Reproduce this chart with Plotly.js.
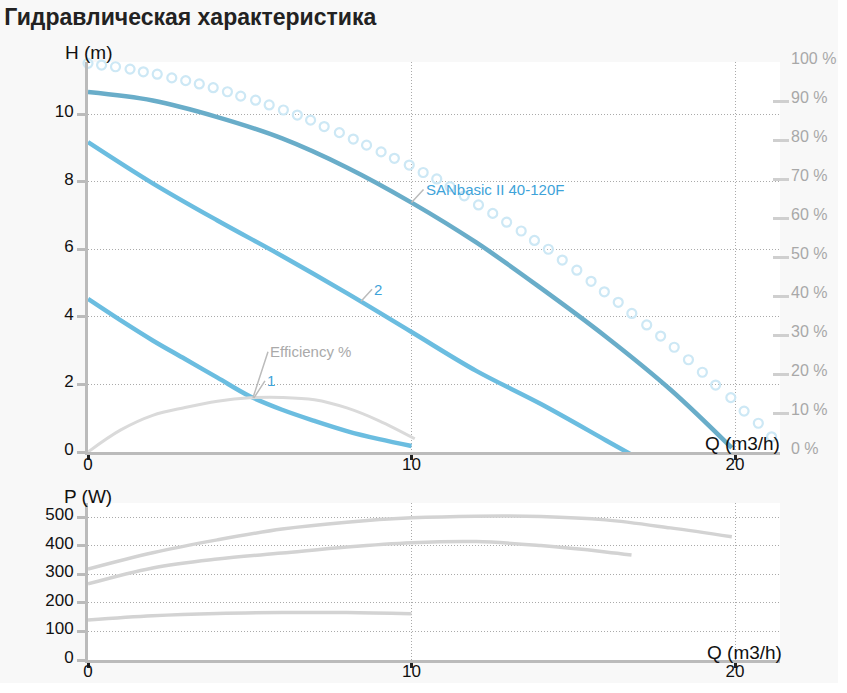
<!DOCTYPE html>
<html>
<head>
<meta charset="utf-8">
<script src="https://cdn.plot.ly/plotly-3.0.1.min.js"></script>
<style>
  html, body { margin: 0; padding: 0; background: #ffffff; }
  #chart { width: 838px; height: 683px; }
</style>
</head>
<body>
<div id="chart"></div>
<script>
// Pump curve H(Q), max speed
const qMax = [0, 2, 4, 6, 8, 10, 12, 14, 16, 18, 19.9];
const hMax = [10.65, 10.4, 9.91, 9.28, 8.42, 7.38, 6.2, 4.85, 3.42, 1.85, 0.12];

// Speed 2
const q2 = [0, 2, 4, 6, 8, 10, 12, 14, 16, 16.8];
const h2 = [9.17, 7.95, 6.85, 5.8, 4.7, 3.55, 2.4, 1.42, 0.35, -0.08];

// Speed 1
const q1 = [0, 1, 2, 3, 4, 5, 6, 7, 8, 9, 10];
const h1 = [4.53, 3.9, 3.3, 2.75, 2.2, 1.65, 1.25, 0.92, 0.62, 0.38, 0.18];

// Efficiency (%), right axis
const qEff = [0, 1, 2, 3, 4, 5, 6, 7, 8, 9, 10.1];
const eff = [0, 5.6, 9.4, 11.4, 13.0, 13.9, 14.0, 13.4, 11.3, 8.0, 3.4];

// Light dotted limit curve
const qDots = [0, 0.42, 0.85, 1.30, 1.71, 2.14, 2.59, 3.02, 3.44, 3.87,
               4.31, 4.72, 5.18, 5.60, 6.04, 6.47, 6.88, 7.30, 7.77, 8.20,
               8.61, 9.06, 9.47, 9.93, 10.36, 10.78, 11.19, 11.63, 12.07, 12.51,
               12.94, 13.39, 13.80, 14.23, 14.66, 15.11, 15.55, 15.96, 16.39, 16.81,
               17.27, 17.70, 18.12, 18.56, 18.99, 19.40, 19.87, 20.28, 20.72, 21.13];
const hDots = [11.50, 11.45, 11.40, 11.33, 11.25, 11.18, 11.07, 10.99, 10.89, 10.78,
               10.66, 10.53, 10.41, 10.27, 10.12, 9.97, 9.82, 9.63, 9.45, 9.26,
               9.08, 8.88, 8.69, 8.49, 8.27, 8.08, 7.85, 7.58, 7.31, 7.06,
               6.80, 6.54, 6.26, 6.00, 5.68, 5.38, 5.05, 4.74, 4.43, 4.10,
               3.76, 3.43, 3.10, 2.73, 2.36, 1.98, 1.61, 1.21, 0.85, 0.45];

// Power P(Q)
const qPA = [0, 2, 4, 6, 8, 10, 12, 14, 16, 18, 19.9];
const pA = [318, 375, 420, 458, 482, 497, 503, 502, 490, 462, 431];
const qPB = [0, 2, 4, 6, 8, 10, 12, 14, 16, 16.8];
const pB = [266, 322, 353, 374, 395, 410, 414, 400, 378, 367];
const qPC = [0, 2, 4, 6, 8, 10];
const pC = [140, 155, 163, 166, 166, 162];

const xTicks = [0, 10, 20];
const hTicks = [0, 2, 4, 6, 8, 10];
const pctTicks = [0, 10, 20, 30, 40, 50, 60, 70, 80, 90, 100];
const pctLabels = pctTicks.map(v => v + ' %');
const pTicks = [0, 100, 200, 300, 400, 500];

const FONT = 'Liberation Sans, Arial, sans-serif';
const blueDark = '#69adc9';
const blue = '#6bbde0';
const grayLine = '#d3d3d3';
const axisGray = '#bbbbbb';
const gridGray = '#aaaaaa';
const gridDash = '1px,2px';

const traces = [
    { x: qDots, y: hDots, mode: 'markers', type: 'scatter', cliponaxis: false,
      marker: { symbol: 'circle-open', size: 9, color: '#cde8f5', line: { width: 2.2, color: '#cde8f5' } } },
    { x: qEff, y: eff, yaxis: 'y2', mode: 'lines', type: 'scatter',
      line: { color: '#dadada', width: 3, shape: 'spline' } },
    { x: q1, y: h1, mode: 'lines', type: 'scatter', line: { color: blue, width: 4.5, shape: 'spline' } },
    { x: q2, y: h2, mode: 'lines', type: 'scatter', cliponaxis: false,
      line: { color: blue, width: 4.5, shape: 'spline' } },
    { x: qMax, y: hMax, mode: 'lines', type: 'scatter', line: { color: blueDark, width: 4.5, shape: 'spline' } },
    { x: qPA, y: pA, xaxis: 'x2', yaxis: 'y3', mode: 'lines', type: 'scatter',
      line: { color: grayLine, width: 3.5, shape: 'spline' } },
    { x: qPB, y: pB, xaxis: 'x2', yaxis: 'y3', mode: 'lines', type: 'scatter',
      line: { color: grayLine, width: 3.5, shape: 'spline' } },
    { x: qPC, y: pC, xaxis: 'x2', yaxis: 'y3', mode: 'lines', type: 'scatter',
      line: { color: grayLine, width: 3.5, shape: 'spline' } }
];

const xDom = [88 / 838, 780 / 838];
const topDom = [1 - 452 / 683, 1 - 62 / 683];
const botDom = [1 - 660 / 683, 1 - 503 / 683];

function xAxis(anchor, standoff) {
    return {
        domain: xDom, anchor: anchor, range: [0, 21.39],
        tickvals: xTicks, ticks: 'outside', ticklen: 5, tickwidth: 3, tickcolor: '#222',
        ticklabelstandoff: standoff,
        showline: true, linecolor: axisGray, linewidth: 3,
        showgrid: true, gridcolor: gridGray, griddash: gridDash, gridwidth: 1,
        zeroline: false, tickfont: { size: 17, color: '#111' }, fixedrange: true
    };
}

function yAxis(anchor, dom, range, vals) {
    return {
        domain: dom, anchor: anchor, range: range, tickvals: vals,
        ticks: 'outside', ticklen: 8, tickwidth: 3, tickcolor: axisGray,
        ticklabelshift: -3, ticklabelstandoff: 0,
        showline: true, linecolor: axisGray, linewidth: 3,
        showgrid: true, gridcolor: gridGray, griddash: gridDash, gridwidth: 1,
        zeroline: false, tickfont: { size: 17, color: '#111' }, fixedrange: true
    };
}

// second copies of the left axes, only to draw the inner half of each tick
function innerTicks(over, range, vals) {
    return {
        overlaying: over, anchor: over === 'y' ? 'x' : 'x2', range: range, tickvals: vals,
        ticks: 'inside', ticklen: 9, tickwidth: 3, tickcolor: axisGray,
        showticklabels: false, showgrid: false, showline: false, zeroline: false
    };
}

const hRange = [0, 11.54];
const pRange = [0, 549];

const layout = {
    width: 838, height: 683,
    margin: { l: 0, r: 0, t: 0, b: 0 },
    paper_bgcolor: '#f8f8f8', plot_bgcolor: '#ffffff',
    showlegend: false,
    font: { family: FONT },
    title: {
        text: '<b>Гидравлическая характеристика</b>',
        x: 0.005, xanchor: 'left', y: 1 - 17 / 683, yanchor: 'middle',
        font: { size: 23, color: '#222', family: FONT }
    },
    xaxis: xAxis('y', -10),
    xaxis2: xAxis('y3', -11),
    yaxis: yAxis('x', topDom, hRange, hTicks),
    yaxis3: yAxis('x2', botDom, pRange, pTicks),
    yaxis4: innerTicks('y', hRange, hTicks),
    yaxis5: innerTicks('y3', pRange, pTicks),
    yaxis2: {
        overlaying: 'y', anchor: 'free', position: 789 / 838, side: 'right',
        range: [0, 100], tickvals: pctTicks, ticktext: pctLabels,
        ticks: 'inside', ticklen: 16, tickwidth: 3, tickcolor: '#cfcfcf',
        ticklabelshift: -4, ticklabelstandoff: 1,
        showline: false, showgrid: false, zeroline: false,
        tickfont: { size: 16, color: '#a8a8a8' }, fixedrange: true
    },
    annotations: [
        { xref: 'paper', yref: 'paper', x: 88 / 838, y: 1 - 52 / 683, text: 'H (m)', showarrow: false,
          xanchor: 'center', yanchor: 'middle', font: { size: 19, color: '#111' } },
        { xref: 'paper', yref: 'paper', x: 782 / 838, y: 1 - 443 / 683, text: 'Q (m3/h)', showarrow: false,
          xanchor: 'right', yanchor: 'middle', font: { size: 19, color: '#111' } },
        { xref: 'paper', yref: 'paper', x: 88 / 838, y: 1 - 496 / 683, text: 'P (W)', showarrow: false,
          xanchor: 'center', yanchor: 'middle', font: { size: 19, color: '#111' } },
        { xref: 'paper', yref: 'paper', x: 784 / 838, y: 1 - 652 / 683, text: 'Q (m3/h)', showarrow: false,
          xanchor: 'right', yanchor: 'middle', font: { size: 19, color: '#111' } },
        { x: 10, y: 7.38, text: 'SANbasic II 40-120F', showarrow: true, arrowhead: 0, arrowwidth: 1.5,
          arrowcolor: axisGray, ax: 12, ay: -13, xanchor: 'left', yanchor: 'middle',
          font: { size: 15, color: '#3ea3d9' } },
        { x: 8.44, y: 4.46, text: '2', showarrow: true, arrowhead: 0, arrowwidth: 1.5,
          arrowcolor: axisGray, ax: 11, ay: -12, xanchor: 'left', yanchor: 'middle',
          font: { size: 15, color: '#3ea3d9' } },
        { x: 5.13, y: 1.6, text: '1', showarrow: true, arrowhead: 0, arrowwidth: 1.5,
          arrowcolor: axisGray, ax: 11, ay: -17, xanchor: 'left', yanchor: 'middle',
          font: { size: 15, color: '#3ea3d9' } },
        { x: 5.1, y: 13.9, yref: 'y2', text: 'Efficiency %', showarrow: true, arrowhead: 0, arrowwidth: 1.5,
          arrowcolor: axisGray, ax: 15, ay: -46, xanchor: 'left', yanchor: 'middle',
          font: { size: 15, color: '#aaaaaa' } }
    ]
};

Plotly.newPlot('chart', traces, layout, { displayModeBar: false, staticPlot: true });
</script>
</body>
</html>
